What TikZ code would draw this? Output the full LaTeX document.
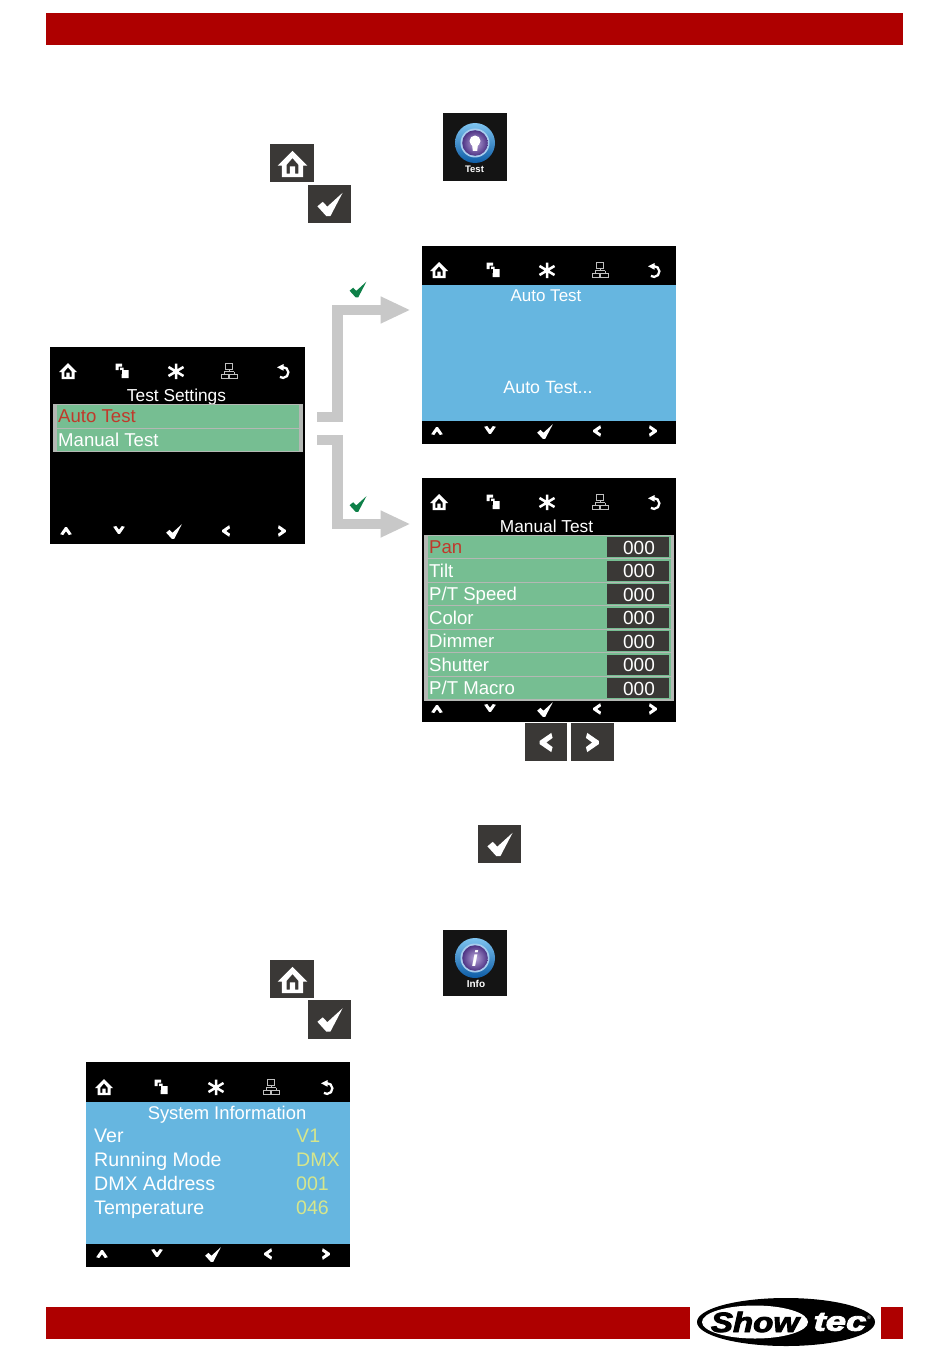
\documentclass[tikz,border=0pt]{standalone}
\usepackage{fontspec}
\setmainfont{Liberation Sans}
\newfontfamily\logofont[BoldItalicFeatures={FakeBold=3}]{Liberation Sans}
\usetikzlibrary{arrows.meta,shapes.geometric}
\definecolor{barred}{HTML}{AE0000}
\definecolor{scrblue}{HTML}{66B6E0}
\definecolor{scrgreen}{HTML}{76BE92}
\definecolor{rowedge}{HTML}{B4B8B4}
\definecolor{listred}{HTML}{C0392B}
\definecolor{btn}{HTML}{3A3836}
\definecolor{valyellow}{HTML}{D6E68C}
\definecolor{arrowgrey}{HTML}{C8C8C8}
\definecolor{checkgreen}{HTML}{0E8048}
\definecolor{ringtop}{HTML}{7FC4F0}
\definecolor{ringbot}{HTML}{0D5CA6}
\definecolor{ringin}{HTML}{A9CDEE}
\definecolor{purpin}{HTML}{B8A6DA}
\definecolor{purpout}{HTML}{4E3384}
\tikzset{
  x=1pt,y=-1pt,
  txt/.style={inner sep=0pt,text height=#1*.84pt,text depth=#1*.1pt,text=white,font=\fontsize{#1}{#1}\selectfont},
  listtxt/.style={txt=18.6,anchor=west},
  scr/.style={fill=black,draw=none,inner sep=0pt,outer sep=0pt},
  btnbox/.style={fill=btn,draw=none,inner sep=0pt,outer sep=0pt},
  blockarrow/.style={draw=arrowgrey,line width=10.5pt,line join=miter,-{Triangle[length=30pt,width=25pt]},shorten <=12pt,shorten >=11pt},
  ihome/.pic={\fill[white,even odd rule] (-9,1)--(0,-8)--(9,1)--(6.5,1)--(6.5,8)--(-6.5,8)--(-6.5,1)--cycle (-3.6,5.8)--(-3.6,.5)--(0,-3.6)--(3.6,.5)--(3.6,5.8)--(1.6,5.8)--(1.6,1.5)--(-1.6,1.5)--(-1.6,5.8)--cycle;},
  icopy/.pic={\fill[white] (-6.5,-7.5) rectangle (0,-4.5) (-6.5,-4.5) rectangle (-3.5,-1) (-2,-3.5) rectangle (1.5,-1) (-.5,-1) rectangle (6.5,7);\fill[black] (-.8,-1) rectangle (-.5,3);},
  istar/.pic={\draw[white,line width=2.5pt] (0,-8)--(0,7.5) (-7.5,-4.5)--(7.5,4.5) (-7.5,4.5)--(7.5,-4.5);},
  inet/.pic={\draw[white!75!black,line width=.9pt] (-3.2,-7.5) rectangle (3.2,-2) (0,-2)--(0,.5) (-5,.5)--(5,.5) (-8,3) rectangle (-.8,7.5) (.8,3) rectangle (8,7.5) (-5,.5)--(-5,3) (5,.5)--(5,3);},
  iundo/.pic={\draw[white,line width=2.3pt,yshift=-1.5pt] (-.3,-5.4) arc[start angle=-93,end angle=125,radius=5.4];\fill[white,yshift=-1.5pt] (.5,-8.5)--(-6,-5.2)--(.5,-1.8)--cycle;},
  ichev/.pic={\fill[white] (-5.8,3.2)--(-1,-3.8)--(1,-3.8)--(5.8,3.2)--(2.8,4)--(0,.2)--(-2.8,4)--cycle;},
  icheckw/.pic={\fill[white] (-7,1)--(-4,-1.5)--(-1.5,1.2)--(7,-6.5)--(0.2,6.5)--(-2,6.5)--cycle;},
  icheckg/.pic={\fill[checkgreen] (-7,1)--(-4,-1.5)--(-1.5,1.2)--(7,-6.5)--(0.2,6.5)--(-2,6.5)--cycle;},
}
\newcommand{\toprow}[6]{%
  \pic at (#2,#1) {ihome};\pic at (#3,#1) {icopy};\pic at (#4,#1+.5) {istar};\pic at (#5,#1) {inet};\pic at (#6,#1) {iundo};}
\newcommand{\navrow}[6]{%
  \pic at (#2,#1) {ichev};\pic[rotate=180] at (#3,#1-1) {ichev};\pic[scale=1.12] at (#4,#1+.5) {icheckw};\pic[rotate=90] at (#5,#1) {ichev};\pic[rotate=-90] at (#6,#1) {ichev};}
\newcommand{\roundicon}[2]{%
  \shade[top color=ringtop,bottom color=ringbot] (#1,#2) circle (20);
  \fill[ringin] (#1,#2) circle (14.5);
  \shade[inner color=purpin,outer color=purpout] (#1,#2) circle (12.8);}
\begin{document}
\begin{tikzpicture}
\useasboundingbox (0,0) rectangle (950,1359);
\fill[white] (0,0) rectangle (950,1359);
% red bars
\fill[barred] (46,13) rectangle (903,45);
\fill[barred] (46,1307) rectangle (690,1339);
\fill[barred] (881,1307) rectangle (903,1339);
% logo
\node[ellipse,fill=black,minimum width=178pt,minimum height=48pt,inner sep=0pt] (logo) at (786,1322) {};
\node[ellipse,fill=white,minimum width=106pt,minimum height=33pt,inner sep=0pt] (logow) at (755,1322) {};
\node[inner sep=0pt,text=black,xscale=1.18] (show) at (755,1322) {\logofont\fontsize{28}{28}\selectfont\bfseries\itshape Show};
\node[inner sep=0pt,text=white,xscale=1.35] (tec) at (840,1322) {\logofont\fontsize{27}{27}\selectfont\bfseries\itshape tec};
\node[inner sep=0pt,text=white] (reg) at (869,1318) {\fontsize{5}{5}\selectfont ®};
% first button group
\node[btnbox,minimum width=44pt,minimum height=38pt] (b1) at (292,163) {};
\pic[scale=1.65] at (292.5,164) {ihome};
\node[btnbox,minimum width=43pt,minimum height=38pt] (b2) at (329.5,204) {};
\pic[scale=1.8] at (330,204.5) {icheckw};
% Test icon
\node[fill=black!92,minimum width=64pt,minimum height=68pt,inner sep=0pt] (ti) at (475,147) {};
\roundicon{475}{143}
\fill[white] (475,141) circle (5.5);
\fill[white] (472,144)--(478,144)--(477.2,151)--(472.8,151)--cycle;
\node[inner sep=0pt,text=white] (tl) at (474.5,169) {\fontsize{9.5}{9.5}\selectfont\bfseries Test};
% Settings screen
\node[scr,minimum width=255pt,minimum height=197pt] (settings) at (177.5,445.5) {};
\toprow{371}{68}{122}{176}{229}{283}
\navrow{531}{66}{119}{174}{226}{282}
\node[txt=17.3] (st) at (176.5,395) {Test Settings};
\fill[rowedge] (53,404) rectangle (303,452);
\fill[scrgreen] (57,404.5) rectangle (299,427.5);
\fill[scrgreen] (57,428.7) rectangle (299,451);
\node[listtxt,text=listred] (s1) at (58,416) {Auto Test};
\node[listtxt] (s2) at (58,440) {Manual Test};
% Auto screen
\node[scr,minimum width=254.5pt,minimum height=198pt] (auto) at (548.75,345) {};
\fill[scrblue] (421.5,285) rectangle (676,421);
\toprow{270}{439}{493}{547}{600}{654}
\navrow{431}{437}{490}{545}{597}{653}
\node[txt=17] (at) at (546,295) {Auto Test};
\node[txt=17.8] (am) at (548,387) {Auto Test...};
% Manual screen
\node[scr,minimum width=254.5pt,minimum height=244pt] (manual) at (548.75,600) {};
\toprow{502}{439}{493}{547}{600}{654}
\navrow{709}{437}{490}{545}{597}{653}
\node[txt=17.3] (mt) at (546.5,526) {Manual Test};
\fill[rowedge] (424,535) rectangle (674,700.5);
\foreach \yy/\lab/\nm/\col in {547/Pan/a/listred,570.5/Tilt/b/white,594/P\slash T Speed/c/white,617.5/Color/d/white,641/Dimmer/e/white,664.5/Shutter/f/white,688/P\slash T Macro/g/white}{
  \fill[scrgreen] (428,\yy-11.2) rectangle (670.5,\yy+11.2);
  \node[btnbox,minimum width=62pt,minimum height=20pt] (v\nm) at (637.5,\yy) {};
  \node[txt=19] (w\nm) at (639,\yy) {000};
  \node[listtxt,text=\col] (l\nm) at (429,\yy) {\lab};
}
% arrows between screens
\draw[blockarrow] ([yshift=28.5pt]settings.east) -- ++(32.5,0) |- ([yshift=35pt]auto.west);
\draw[blockarrow] ([yshift=5.5pt]settings.east) -- ++(32.5,0) |- ([yshift=76pt]manual.west);
\pic[scale=1.2] at (358,289.5) {icheckg};
\pic[scale=1.2] at (358,504) {icheckg};
% chevron buttons
\node[btnbox,minimum width=42.5pt,minimum height=38pt] (bl) at (546,742) {};
\pic[rotate=90,scale=1.65] at (546,742.5) {ichev};
\node[btnbox,minimum width=43pt,minimum height=38pt] (br) at (592.5,742) {};
\pic[rotate=-90,scale=1.65] at (592.5,742.5) {ichev};
\node[btnbox,minimum width=43pt,minimum height=38pt] (b3) at (499.5,844) {};
\pic[scale=1.8] at (500,844.5) {icheckw};
% second button group
\node[btnbox,minimum width=44pt,minimum height=38pt] (b4) at (292,979) {};
\pic[scale=1.65] at (292.5,980) {ihome};
\node[btnbox,minimum width=43pt,minimum height=39pt] (b5) at (329.5,1019.5) {};
\pic[scale=1.8] at (330,1020) {icheckw};
% Info icon
\node[fill=black!92,minimum width=64pt,minimum height=66pt,inner sep=0pt] (ii) at (475,963) {};
\roundicon{475}{958}
\node[inner sep=0pt,text=white] (ig) at (475,958.5) {\fontsize{22}{22}\selectfont\bfseries\itshape i};
\node[inner sep=0pt,text=white] (il) at (476,984) {\fontsize{10}{10}\selectfont\bfseries Info};
% System screen
\node[scr,minimum width=264pt,minimum height=205pt] (system) at (218,1164.5) {};
\fill[scrblue] (86,1102) rectangle (350,1244);
\toprow{1087}{104}{161}{216}{271}{327}
\navrow{1254}{102}{157}{213}{268}{326}
\node[txt=18.4] (sy) at (227,1113) {System Information};
\foreach \yy/\lab/\val/\nm in {1135/Ver/V1/a,1159/Running Mode/DMX/b,1183/DMX Address/001/c,1207/Temperature/046/d}{
  \node[txt=19.6,anchor=west] (q\nm) at (94,\yy) {\lab};
  \node[txt=19.6,anchor=west,text=valyellow] (r\nm) at (296,\yy) {\val};
}
\end{tikzpicture}
\end{document}
